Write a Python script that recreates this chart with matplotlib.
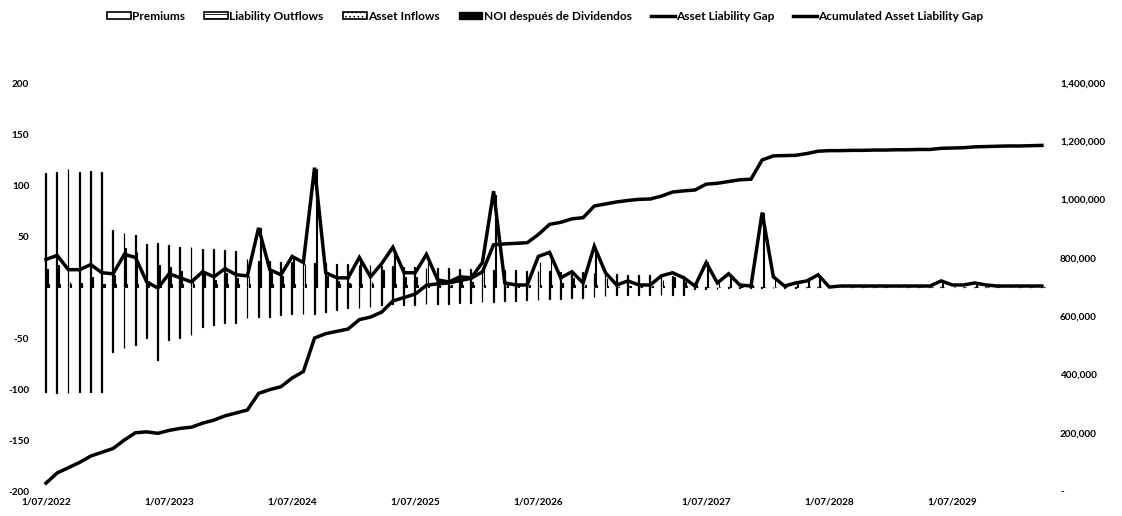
import matplotlib
matplotlib.use("Agg")
import matplotlib.pyplot as plt
import numpy as np
from matplotlib.lines import Line2D
from matplotlib.patches import Patch
from matplotlib.ticker import FuncFormatter

plt.rcParams['font.family'] = ['Lato', 'DejaVu Sans']
plt.rcParams['hatch.linewidth'] = 0.6

# cash flow projection, one entry per period (90 periods)
premiums = [112, 113, 116, 113, 114, 113,
            56, 53, 51, 42, 43, 41, 39, 39,
            37, 37, 36, 35, 27, 26, 26, 25, 25, 24, 24, 24, 23, 23, 22, 22, 21, 21,
            20, 20, 19, 19, 19, 18, 18, 18, 17, 17, 17, 16, 16, 16, 15, 15, 15, 14,
            13, 13, 12, 12, 12, 11, 11, 11,
            0, 0, 0, 0, 0, 0, 0, 0, 0, 0,
            0, 0, 0, 0, 0, 0, 0, 0, 0, 0, 0, 0, 0, 0, 0, 0, 0, 0, 0, 0, 0, 0]

liability_outflows = [-103, -104, -104, -103, -103, -103,
                      -64, -60, -57, -50, -72, -52, -50, -47,
                      -39, -37, -35, -35, -30, -29, -29, -27, -26, -26, -26, -24, -23, -21, -21, -20, -18, -17,
                      -18, -18, -17, -17, -17, -16, -16, -15, -15, -14, -14, -13, -13, -12, -12, -11, -11, -10,
                      -9, -8, -8, -8, -8, -8, -8, -8,
                      -2, -2, -2, -1, -1, -1, -1, -1, -1, -1,
                      0, 0, 0, 0, 0, 0, 0, 0, 0, 0, 0, 0, 0, 0, 0, 0, 0, 0, 0, 0, 0, 0]

asset_inflows = [18, 22, 5, 4, 10, 3,
                 12, 38, 34, 6, 22, 20, 16, 10,
                 14, 7, 14, 9, 11, 58, 17, 11, 28, 23, 116, 11, 6, 4, 25, 5, 17, 32,
                 10, 10, 28, 3, 1, 6, 5, 19, 90, 0, 0, 0, 25, 28, 4, 9, 0, 34,
                 9, 0, 1, 0, 0, 7, 10, 5,
                 2, 25, 5, 13, 3, 2, 73, 11, 2, 4,
                 6, 12, 0, 0, 0, 0, 0, 0, 0, 0, 0, 0, 5, 0, 0, 3, 0, 0, 0, 0, 0, 0]

noi_after_div = [3, 3, 3, 3, 3, 3, 3, 3, 3, 3, 3, 3, 3, 3,
                 3, 3, 3, 3, 3, 3, 3, 3, 3, 3, 3, 3, 3, 3, 3, 3, 3, 3,
                 2, 2, 2, 2, 2, 2, 2, 2, 2, 2, 2, 2, 2, 2, 2, 2, 2, 2,
                 1, 1, 1, 1, 1, 1, 1, 1,
                 0, 0, 0, 0, 0, 0, 0, 0, 0, 0,
                 0, 0, 0, 0, 0, 0, 0, 0, 0, 0, 0, 0, 0, 0, 0, 0, 0, 0, 0, 0, 0, 0]

alm_gap = [27, 31, 17, 17, 22, 14, 13, 32, 29, 5, -1, 13, 9, 5,
           15, 10, 18, 12, 11, 58, 17, 12, 30, 24, 117, 14, 9, 9, 29, 10, 23, 39,
           14, 14, 32, 7, 5, 10, 9, 24, 94, 4, 2, 2, 30, 34, 9, 15, 4, 40,
           14, 2, 6, 2, 2, 11, 14, 9,
           1, 24, 4, 13, 2, 1, 73, 10, 1, 4,
           6, 12, 0, 1, 1, 1, 1, 1, 1, 1, 1, 1, 6, 2, 2, 4, 2, 1, 1, 1, 1, 1]

acc_gap = [27000, 62000, 80000, 98000, 120000, 133000, 146000, 175000, 200000, 203000,
           198000, 208000, 215000, 219000, 233000, 243000, 258000, 268000, 278000, 335000,
           348000, 358000, 388000, 410000, 525000, 540000, 548000, 556000, 588000, 597000,
           614000, 652000, 664000, 676000, 706000, 711000, 714000, 722000, 730000, 752000,
           845000, 848000, 850000, 852000, 880000, 915000, 922000, 934000, 938000, 978000,
           985000, 992000, 997000, 1001000, 1002000, 1012000, 1026000, 1030000, 1033000, 1053000,
           1056000, 1062000, 1068000, 1070000, 1136000, 1150000, 1151000, 1152000, 1158000, 1166000,
           1168000, 1168000, 1169000, 1169000, 1170000, 1170000, 1171000, 1171000, 1172000, 1172000,
           1176000, 1177000, 1178000, 1181000, 1182000, 1183000, 1184000, 1184000, 1185000, 1186000]

# period index -> date shown on the category axis
date_labels = {0: "1/07/2022", 11: "1/07/2023", 22: "1/07/2024", 33: "1/07/2025",
               44: "1/07/2026", 59: "1/07/2027", 70: "1/07/2028", 81: "1/07/2029"}

series_names = ["Premiums", "Liability Outflows", "Asset Inflows", "NOI después de Dividendos",
                "Asset Liability Gap", "Acumulated Asset Liability Gap"]

fig = plt.figure(figsize=(11.22, 5.16), dpi=100)
ax = fig.add_axes([0.036, 0.0484, 0.8976, 0.7907])
ax2 = ax.twinx()

x = np.arange(len(alm_gap))
w = 0.07
ax.bar(x - 0.5 * w, premiums, w, facecolor="white", edgecolor="black", lw=0.9)
ax.bar(x - 0.5 * w, liability_outflows, w, facecolor="white", edgecolor="black", lw=0.9, hatch="----")
ax.bar(x + 2.0 * w, asset_inflows, w, facecolor="white", edgecolor="black", lw=0.8, hatch="....")
ax.bar(x + 3.0 * w, noi_after_div, w, facecolor="black", edgecolor="black", lw=0.8)
ax.plot(x, alm_gap, color="black", lw=2.5, solid_joinstyle="miter", zorder=5)
ax2.plot(x, acc_gap, color="black", lw=2.5, solid_joinstyle="miter")

ax.set_xlim(-0.5, len(x) - 0.5)
ax.set_ylim(-200, 200)
ax2.set_ylim(0, 1400000)
ax.set_yticks(range(-200, 201, 50))
ax2.set_yticks(range(0, 1400001, 200000))
ax.yaxis.set_major_formatter(FuncFormatter(lambda v, p: "" if v == 0 else f"{v:.0f}"))
ax2.yaxis.set_major_formatter(FuncFormatter(lambda v, p: "-" if v == 0 else f"{v:,.0f}"))
ax.set_xticks(list(date_labels.keys()))
ax.set_xticklabels(list(date_labels.values()))

for a in (ax, ax2):
    for s in a.spines.values():
        s.set_visible(False)
    a.tick_params(length=0, labelsize=7.2)
    for t in a.get_xticklabels() + a.get_yticklabels():
        t.set_fontweight("bold")
ax.tick_params(axis="y", pad=8)
ax.tick_params(axis="x", pad=5)
ax2.tick_params(axis="y", pad=9)

handles = [Patch(facecolor="white", edgecolor="black", lw=1.2),
           Patch(facecolor="white", edgecolor="black", lw=1.2, hatch="----"),
           Patch(facecolor="white", edgecolor="black", lw=1.2, hatch="...."),
           Patch(facecolor="black", edgecolor="black"),
           Line2D([], [], color="black", lw=2.5),
           Line2D([], [], color="black", lw=2.5)]
fig.legend(handles, series_names, loc="upper center", bbox_to_anchor=(0.486, 1.0), ncol=6,
           frameon=False, prop={"size": 8.6, "weight": "bold"}, handlelength=2.0,
           handleheight=0.45, handletextpad=0.1, columnspacing=1.6)

fig.savefig("out.png", dpi=100)
